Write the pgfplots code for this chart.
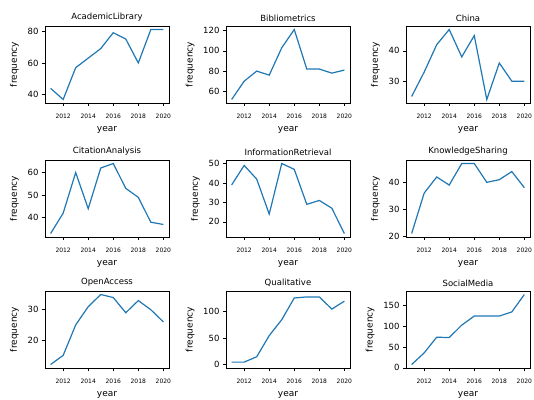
\documentclass[border=0pt]{standalone}
\usepackage{pgfplots}
\pgfplotsset{compat=1.18}
\usepackage{fontspec}
\setmainfont{DejaVu Sans}
\definecolor{mplblue}{HTML}{1F77B4}

\pgfplotsset{
  panel/.style={
    scale only axis, width=124pt, height=77pt,
    anchor=north west,
    xmin=2010.55, xmax=2020.45,
    xtick={2012,2014,2016,2018,2020},
    /pgf/number format/1000 sep={},
    /pgf/number format/assume math mode=true,
    tick align=outside, xtick pos=bottom, ytick pos=left,
    major tick length=3pt,
    every tick/.style={black, line width=0.6pt},
    axis line style={line width=0.6pt},
    xticklabel style={font=\fontsize{6}{7}\selectfont, yshift=-4.5pt},
    yticklabel style={font=\fontsize{8.5}{10}\selectfont},
    xlabel={year}, ylabel={frequency},
    label style={font=\fontsize{9}{10}\selectfont},
    title style={font=\fontsize{8.5}{10}\selectfont, yshift=-5pt},
    xlabel style={yshift=-1.5pt},
    ylabel style={yshift=2pt},
  },
  series/.style={mplblue, line width=1.2pt, no marks},
}

\begin{document}
\begin{tikzpicture}
\path[use as bounding box] (0pt,0pt) rectangle (534pt,-399pt);

% Row 1
\begin{axis}[panel, at={(45pt,-26pt)}, title={AcademicLibrary},
  ymin=34.8, ymax=83.2, ytick={40,60,80}]
\addplot[series] coordinates {(2011,44) (2012,37) (2013,57) (2014,63) (2015,69) (2016,79) (2017,75) (2018,60) (2019,81) (2020,81)};
\end{axis}

\begin{axis}[panel, at={(226pt,-26pt)}, title={Bibliometrics},
  ymin=48.5, ymax=124.5, ytick={60,80,100,120}]
\addplot[series] coordinates {(2011,52) (2012,70) (2013,80) (2014,76) (2015,103) (2016,121) (2017,82) (2018,82) (2019,78) (2020,81)};
\end{axis}

\begin{axis}[panel, at={(406pt,-26pt)}, title={China},
  ymin=22.85, ymax=48.15, ytick={30,40}]
\addplot[series] coordinates {(2011,25) (2012,33) (2013,42) (2014,47) (2015,38) (2016,45) (2017,24) (2018,36) (2019,30) (2020,30)};
\end{axis}

% Row 2
\begin{axis}[panel, at={(45pt,-160pt)}, title={CitationAnalysis},
  ymin=31.45, ymax=65.55, ytick={40,50,60}]
\addplot[series] coordinates {(2011,33) (2012,42) (2013,60) (2014,44) (2015,62) (2016,64) (2017,53) (2018,49) (2019,38) (2020,37)};
\end{axis}

\begin{axis}[panel, at={(226pt,-160pt)}, title={InformationRetrieval},
  ymin=12.2, ymax=51.8, ytick={20,30,40,50}]
\addplot[series] coordinates {(2011,39) (2012,49) (2013,42) (2014,24) (2015,50) (2016,47) (2017,29) (2018,31) (2019,27) (2020,14)};
\end{axis}

\begin{axis}[panel, at={(406pt,-160pt)}, title={KnowledgeSharing},
  ymin=19.7, ymax=48.3, ytick={20,30,40}]
\addplot[series] coordinates {(2011,21) (2012,36) (2013,42) (2014,39) (2015,47) (2016,47) (2017,40) (2018,41) (2019,44) (2020,38)};
\end{axis}

% Row 3
\begin{axis}[panel, at={(45pt,-291pt)}, title={OpenAccess},
  ymin=10.85, ymax=36.15, ytick={20,30}]
\addplot[series] coordinates {(2011,12) (2012,15) (2013,25) (2014,31) (2015,35) (2016,34) (2017,29) (2018,33) (2019,30) (2020,26)};
\end{axis}

\begin{axis}[panel, at={(226pt,-291pt)}, title={Qualitative},
  ymin=-6.15, ymax=139.15, ytick={0,50,100}]
\addplot[series] coordinates {(2011,5) (2012,5) (2013,15) (2014,55) (2015,85) (2016,126) (2017,128) (2018,128) (2019,105) (2020,120)};
\end{axis}

\begin{axis}[panel, at={(406pt,-291pt)}, title={SocialMedia},
  ymin=-0.45, ymax=185.45, ytick={0,50,100,150}]
\addplot[series] coordinates {(2011,8) (2012,36) (2013,74) (2014,73) (2015,103) (2016,125) (2017,125) (2018,125) (2019,135) (2020,177)};
\end{axis}
\end{tikzpicture}
\end{document}
